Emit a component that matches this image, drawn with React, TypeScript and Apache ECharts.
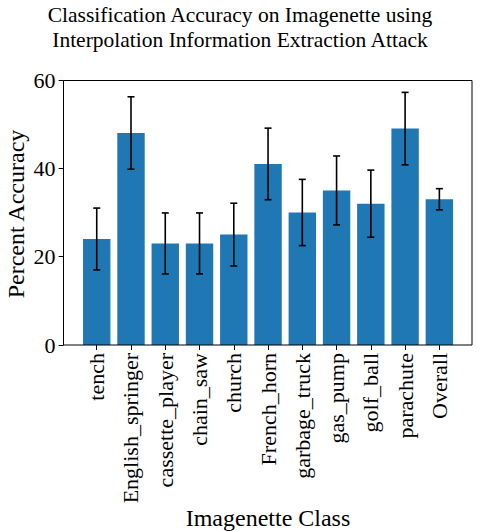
import React, { useEffect, useRef } from "react";
import * as echarts from "echarts";

const categories = [
  "tench",
  "English_springer",
  "cassette_player",
  "chain_saw",
  "church",
  "French_horn",
  "garbage_truck",
  "gas_pump",
  "golf_ball",
  "parachute",
  "Overall",
];
const accuracy = [24, 48, 23, 23, 25, 41, 30, 35, 32, 49, 33];
const errors = [7.0, 8.2, 6.9, 6.9, 7.1, 8.1, 7.5, 7.8, 7.6, 8.2, 2.4];
const yTicks = [0, 20, 40, 60];

const FONT = "'Liberation Serif', 'Times New Roman', 'DejaVu Serif', serif";

export default function App() {
  const ref = useRef<HTMLDivElement>(null);
  useEffect(() => {
    if (!ref.current) return;
    const chart = echarts.init(ref.current, null, { renderer: "svg" });
    const errData = categories.map((_, i) => [i, accuracy[i] - errors[i], accuracy[i] + errors[i]]);
    chart.setOption({
      animation: false,
      backgroundColor: "#ffffff",
      textStyle: { fontFamily: FONT },
      grid: { left: 79.6, right: 26.5, top: 80, bottom: 186, containLabel: false },
      xAxis: {
        type: "category",
        data: categories,
        boundaryGap: true,
        axisLine: { show: false },
        axisTick: { show: true, alignWithLabel: true, length: 5, lineStyle: { color: "#000", width: 1 } },
        axisLabel: {
          rotate: 90,
          interval: 0,
          margin: 8,
          fontSize: 22,
          fontFamily: FONT,
          color: "#000",
        },
        splitLine: { show: false },
      },
      yAxis: {
        type: "value",
        min: yTicks[0],
        max: yTicks[yTicks.length - 1],
        interval: 20,
        offset: 16,
        axisLine: { show: false },
        axisTick: { show: true, length: 5, lineStyle: { color: "#000", width: 1 } },
        axisLabel: { margin: 8, fontSize: 22, fontFamily: FONT, color: "#000" },
        splitLine: { show: false },
      },
      series: [
        {
          type: "bar",
          data: accuracy,
          barWidth: "80%",
          itemStyle: { color: "#1f77b4" },
          z: 2,
        },
        {
          type: "custom",
          data: errData,
          z: 5,
          renderItem: (params: any, api: any) => {
            const x = api.value(0);
            const lo = api.coord([x, api.value(1)]);
            const hi = api.coord([x, api.value(2)]);
            const cap = 3.5;
            const style = { stroke: "#000", lineWidth: 1.6 };
            return {
              type: "group",
              children: [
                { type: "line", shape: { x1: lo[0], y1: lo[1], x2: hi[0], y2: hi[1] }, style },
                { type: "line", shape: { x1: hi[0] - cap, y1: hi[1], x2: hi[0] + cap, y2: hi[1] }, style },
                { type: "line", shape: { x1: lo[0] - cap, y1: lo[1], x2: lo[0] + cap, y2: lo[1] }, style },
              ],
            };
          },
        },
      ],
      graphic: [
        {
          type: "rect",
          z: 100,
          shape: { x: 63.5, y: 80.5, width: 408.5, height: 264.5 },
          style: { fill: "none", stroke: "#000", lineWidth: 1 },
          silent: true,
        },
        {
          type: "text",
          x: 240,
          y: 2,
          style: {
            text: "Classification Accuracy on Imagenette using\nInterpolation Information Extraction Attack",
            fontSize: 21.5,
            fontFamily: FONT,
            fill: "#000",
            align: "center",
            verticalAlign: "top",
            lineHeight: 25,
          },
        },
        {
          type: "text",
          x: 16,
          y: 214,
          rotation: Math.PI / 2,
          style: {
            text: "Percent Accuracy",
            fontSize: 24,
            fontFamily: FONT,
            fill: "#000",
            align: "center",
            verticalAlign: "middle",
          },
        },
        {
          type: "text",
          x: 268,
          y: 518,
          style: {
            text: "Imagenette Class",
            fontSize: 24,
            fontFamily: FONT,
            fill: "#000",
            align: "center",
            verticalAlign: "middle",
          },
        },
      ],
    });
    return () => chart.dispose();
  }, []);
  return (
    <div
      ref={ref}
      style={{ position: "absolute", left: 0, top: 0, width: 483, height: 531 }}
    />
  );
}
